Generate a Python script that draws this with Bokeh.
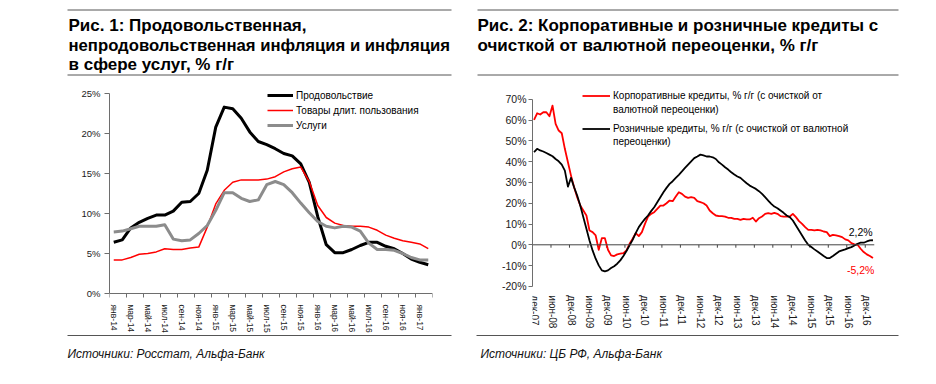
from bokeh.plotting import figure
from bokeh.models import Range1d, FixedTicker, PrintfTickFormatter, Legend, LegendItem, Span, Label
from bokeh.layouts import column, row
from bokeh.embed import file_html
from bokeh.resources import INLINE
from bokeh.core.properties import value

FONT = "Liberation Sans"

# ---------------- data: chart 1 (monthly, янв-14 .. фев-17) ----------------
mon_names = ["янв", "фев", "мар", "апр", "май", "июн", "июл", "авг", "сен", "окт", "ноя", "дек"]
categories1 = [f"{mon_names[k % 12]}-{14 + k // 12}" for k in range(38)]
food = [6.4, 6.7, 8.2, 8.9, 9.4, 9.8, 9.8, 10.3, 11.4, 11.5, 12.5, 15.4, 20.8, 23.3, 23.1, 21.9,
        20.2, 19.0, 18.6, 18.1, 17.5, 17.2, 16.2, 13.9, 9.6, 6.1, 5.1, 5.1, 5.5, 6.0, 6.4, 6.4,
        5.9, 5.6, 5.0, 4.3, 3.9, 3.6]
durable = [4.2, 4.2, 4.5, 4.9, 5.0, 5.2, 5.6, 5.5, 5.5, 5.7, 5.8, 8.3, 11.2, 12.9, 13.9, 14.2,
           14.2, 14.2, 14.3, 14.6, 15.2, 15.6, 15.8, 14.0, 11.0, 9.5, 8.8, 8.5, 8.4, 8.4, 8.3, 7.9,
           7.3, 6.9, 6.6, 6.4, 6.2, 5.6]
services = [7.7, 7.8, 8.1, 8.4, 8.4, 8.4, 8.6, 6.8, 6.6, 6.7, 7.5, 8.5, 10.4, 12.6, 12.6, 11.9,
            11.5, 11.7, 13.6, 14.0, 13.6, 12.6, 11.3, 10.1, 9.0, 8.4, 8.2, 8.4, 8.3, 7.8, 6.3, 5.5,
            5.5, 5.4, 5.0, 4.5, 4.2, 4.2]
yticks1 = [0, 5, 10, 15, 20, 25]

# ---------------- data: chart 2 (monthly, дек-07 .. фев-17) ----------------
corp = [60.1, 63.3, 62.7, 63.8, 63.8, 61.9, 67.0, 58.2, 55.0, 53.7,
        46.2, 39.7, 33.3, 27.7, 22.9, 18.9, 16.5, 14.1, 6.9, 6.1,
        4.5, -2.4, 3.2, 3.2, -2.4, -5.1, -5.4, -4.6, -4.3, -4.0,
        -2.7, 0.5, 2.9, 5.6, 4.2, 6.1, 10.1, 13.6, 14.9, 15.7,
        17.3, 18.9, 18.9, 20.0, 21.3, 21.0, 23.2, 25.3, 24.5, 23.2,
        22.6, 22.9, 22.6, 21.0, 20.5, 20.0, 18.9, 16.5, 15.2, 14.1,
        13.8, 13.8, 13.6, 13.0, 13.0, 12.5, 12.5, 12.0, 12.5, 12.2,
        12.2, 13.0, 11.2, 12.8, 13.6, 14.9, 15.2, 14.9, 15.4, 14.9,
        13.8, 13.6, 13.6, 13.6, 14.9, 13.3, 11.4, 10.1, 8.5, 7.2,
        7.2, 6.9, 7.2, 6.9, 6.4, 6.1, 4.2, 4.8, 4.5, 4.2,
        3.7, 2.6, 2.1, 0.8, 0.2, 0.0, -1.9, -3.5, -4.6, -5.4, -6.4]
retail = [44.6, 46.2, 45.4, 44.9, 44.2, 43.4, 42.6, 41.3, 40.2, 38.6,
          35.7, 28.0, 32.2, 27.7, 23.7, 18.9, 13.3, 7.7, 2.1, -2.7,
          -6.7, -9.9, -12.3, -12.8, -12.3, -11.2, -10.3, -9.1, -7.5, -5.4,
          -3.0, -0.3, 2.4, 5.6, 8.5, 10.6, 12.5, 14.1, 16.2, 18.1,
          20.5, 22.9, 25.3, 27.4, 29.3, 30.6, 32.2, 33.7, 35.3, 37.0,
          38.6, 40.2, 41.7, 42.5, 43.4, 43.0, 42.5, 42.5, 42.1, 41.3,
          39.7, 38.6, 37.3, 36.2, 34.9, 33.8, 32.9, 32.2, 30.9, 29.6,
          28.5, 27.7, 26.9, 25.8, 24.5, 22.9, 21.3, 19.7, 18.4, 17.6,
          16.5, 15.4, 14.1, 13.3, 11.7, 9.3, 6.9, 4.5, 2.1, 0.0,
          -1.1, -2.2, -3.2, -4.3, -5.4, -6.4, -6.4, -5.4, -4.3, -3.2,
          -2.7, -2.2, -1.6, -1.1, -0.3, 0.5, 1.0, 1.0, 1.6, 2.1, 2.2]
xtick_labels2 = ["дек-07", "июн-08", "дек-08", "июн-09", "дек-09", "июн-10", "дек-10", "июн-11",
                 "дек-11", "июн-12", "дек-12", "июн-13", "дек-13", "июн-14", "дек-14", "июн-15",
                 "дек-15", "июн-16", "дек-16"]
yticks2 = [-20, -10, 0, 10, 20, 30, 40, 50, 60, 70]
end_labels2 = ["2,2%", "-5,2%"]

AX = "#6e6e6e"
TXT = "#1a1a1a"
RULE = "#555555"
WL, WR = 468, 460
TITLE_SIZE = "17px"


def deco_fig(w, h):
    p = figure(width=w, height=h, x_range=Range1d(0, w), y_range=Range1d(h, 0),
               output_backend="svg", toolbar_location=None, title=None,
               x_axis_location=None, y_axis_location=None, min_border=0)
    p.grid.visible = False
    p.outline_line_color = None
    return p


def add_text(p, x, y, t, size, style="normal", color="#000000"):
    p.text(x=[x], y=[y], text=[t], text_font=value(FONT), text_font_size=size,
           text_font_style=style, text_baseline="middle", text_align="left", text_color=color)


# ---------------- headers ----------------
h1 = deco_fig(WL, 83)
h1.segment(x0=[67, 67], y0=[9.5, 74.5], x1=[451, 451], y1=[9.5, 74.5], line_color=RULE, line_width=1)
add_text(h1, 68, 25, "Рис. 1: Продовольственная,", TITLE_SIZE, "bold")
add_text(h1, 68, 45, "непродовольственная инфляция и инфляция", "16.7px", "bold")
add_text(h1, 68, 64, "в сфере услуг, % г/г", TITLE_SIZE, "bold")

h2 = deco_fig(WR, 83)
h2.segment(x0=[9, 9], y0=[9.5, 74.5], x1=[430, 430], y1=[9.5, 74.5], line_color=RULE, line_width=1)
add_text(h2, 9, 25, "Рис. 2: Корпоративные и розничные кредиты с", TITLE_SIZE, "bold")
add_text(h2, 9, 45, "очисткой от валютной переоценки, %  г/г", TITLE_SIZE, "bold")

# ---------------- chart 1 ----------------
# frame spans page y 85..333; 8 px per percentage point, 0% at page y 293
x1 = list(range(len(categories1)))
c1 = figure(frame_width=323, frame_height=248,
            x_range=Range1d(-0.5, len(categories1) - 0.5), y_range=Range1d(-5, 26),
            output_backend="svg", toolbar_location=None, title=None,
            min_border_left=109, min_border_right=36, min_border_top=2, min_border_bottom=0)
c1.grid.visible = False
c1.outline_line_color = None
r_food = c1.line(x1, food, line_color="#000000", line_width=3, line_join="round")
r_dur = c1.line(x1, durable, line_color="#ff0000", line_width=1.5, line_join="round")
r_serv = c1.line(x1, services, line_color="#8c8c8c", line_width=3, line_join="round")
lab_ticks1 = list(range(0, len(categories1), 2))
c1.xaxis.fixed_location = 0
c1.xaxis.ticker = FixedTicker(ticks=lab_ticks1, minor_ticks=[t - 0.5 for t in range(0, len(categories1) + 2, 2)])
c1.xaxis.major_label_overrides = {t: categories1[t] for t in lab_ticks1}
c1.xaxis.major_label_orientation = "vertical"
c1.xaxis.major_tick_out = 0
c1.xaxis.major_tick_in = 0
c1.xaxis.minor_tick_out = 4
c1.xaxis.minor_tick_in = 0
c1.xaxis.major_label_standoff = 7
c1.yaxis.bounds = (0, 25)
c1.yaxis.ticker = FixedTicker(ticks=yticks1)
c1.yaxis.formatter = PrintfTickFormatter(format="%d%%")
c1.yaxis.major_tick_out = 5
c1.yaxis.major_tick_in = 0
c1.yaxis.minor_tick_out = 0
c1.yaxis.minor_tick_in = 0
c1.yaxis.major_label_standoff = 4
for ax in (c1.xaxis, c1.yaxis):
    ax.axis_line_color = AX
    ax.major_tick_line_color = AX
    ax.minor_tick_line_color = AX
    ax.major_label_text_font = FONT
    ax.major_label_text_color = TXT
c1.xaxis.major_label_text_font_size = "8.5px"
c1.yaxis.major_label_text_font_size = "9.5px"

leg1 = Legend(items=[LegendItem(label="Продовольствие", renderers=[r_food]),
                     LegendItem(label="Товары длит. пользования", renderers=[r_dur]),
                     LegendItem(label="Услуги", renderers=[r_serv])],
              location=(158, 202), glyph_width=26, glyph_height=12, label_height=12, spacing=3,
              padding=0, margin=0, border_line_color=None, background_fill_alpha=0,
              label_text_font=FONT, label_text_font_size="10px", label_standoff=3,
              label_text_color="#000000")
c1.add_layout(leg1)

# ---------------- chart 2 ----------------
# frame spans page y 85..333; 2.078 px per percentage point, 0% at page y 244.3
x2 = list(range(len(corp)))
c2 = figure(frame_width=342, frame_height=248,
            x_range=Range1d(-0.5, len(corp) - 0.5), y_range=Range1d(-42.69, 76.67),
            output_backend="svg", toolbar_location=None, title=None,
            min_border_left=64, min_border_right=54, min_border_top=2, min_border_bottom=0)
c2.grid.visible = False
c2.outline_line_color = None
c2.add_layout(Span(location=0, dimension="width", line_color="#444444", line_width=1))
lab_ticks2 = [6 * k for k in range(len(xtick_labels2))]
bounds2 = [t - 0.5 for t in lab_ticks2] + [lab_ticks2[-1] + 5.5]
c2.segment(x0=bounds2, y0=[0] * len(bounds2), x1=bounds2, y1=[-1.4] * len(bounds2),
           line_color="#444444", line_width=1)
r_corp = c2.line(x2, corp, line_color="#ff0000", line_width=1.8, line_join="round")
r_ret = c2.line(x2, retail, line_color="#000000", line_width=1.8, line_join="round")
dummy = c2.line(x=[], y=[], line_alpha=0)

c2.xaxis.fixed_location = yticks2[0]
c2.xaxis.ticker = FixedTicker(ticks=lab_ticks2)
c2.xaxis.major_label_overrides = {t: lab for t, lab in zip(lab_ticks2, xtick_labels2)}
c2.xaxis.major_label_orientation = "vertical"
c2.xaxis.axis_line_color = None
c2.xaxis.major_tick_out = 0
c2.xaxis.major_tick_in = 0
c2.xaxis.minor_tick_out = 0
c2.xaxis.minor_tick_in = 0
c2.xaxis.major_label_standoff = 9
c2.yaxis.bounds = (yticks2[0], yticks2[-1])
c2.yaxis.ticker = FixedTicker(ticks=yticks2)
c2.yaxis.formatter = PrintfTickFormatter(format="%d%%")
c2.yaxis.major_tick_out = 4
c2.yaxis.major_tick_in = 0
c2.yaxis.minor_tick_out = 0
c2.yaxis.minor_tick_in = 0
c2.yaxis.major_label_standoff = 2
c2.yaxis.axis_line_color = AX
c2.yaxis.major_tick_line_color = AX
for ax in (c2.xaxis, c2.yaxis):
    ax.major_label_text_font = FONT
    ax.major_label_text_color = TXT
c2.xaxis.major_label_text_font_size = "10px"
c2.yaxis.major_label_text_font_size = "10.5px"

leg_common = dict(glyph_width=28, glyph_height=11, label_height=11, padding=0, margin=0,
                  border_line_color=None, background_fill_alpha=0, label_text_font=FONT,
                  label_text_font_size="10px", label_standoff=3, label_text_color="#000000")
leg2a = Legend(items=[LegendItem(label="Корпоративные кредиты, % г/г (с очисткой от", renderers=[r_corp]),
                      LegendItem(label="валютной переоценки)", renderers=[dummy])],
               location=(50, 218.5), spacing=3, **leg_common)
leg2b = Legend(items=[LegendItem(label="Розничные кредиты, % г/г (с очисткой от валютной", renderers=[r_ret]),
                      LegendItem(label="переоценки)", renderers=[dummy])],
               location=(50, 186.5), spacing=2, **leg_common)
c2.add_layout(leg2a)
c2.add_layout(leg2b)

c2.add_layout(Label(x=len(retail) - 5, y=retail[-1] + 4.2, text=end_labels2[0], text_font=FONT,
                    text_font_size="10.5px", text_color="#000000", text_align="center",
                    text_baseline="middle"))
c2.add_layout(Label(x=len(corp) - 5, y=corp[-1] - 5.5, text=end_labels2[1], text_font=FONT,
                    text_font_size="10.5px", text_color="#ff0000", text_align="center",
                    text_baseline="middle"))

# ---------------- footers ----------------
f1 = deco_fig(WL, 43)
f1.segment(x0=[67], y0=[2], x1=[451], y1=[2], line_color=RULE, line_width=1)
add_text(f1, 67, 20, "Источники: Росстат, Альфа-Банк", "12px", "italic", "#111111")
f2 = deco_fig(WR, 43)
f2.segment(x0=[8], y0=[2], x1=[430], y1=[2], line_color=RULE, line_width=1)
add_text(f2, 12, 20, "Источники: ЦБ РФ, Альфа-Банк", "12px", "italic", "#111111")

layout = column(row(h1, h2), row(c1, c2), row(f1, f2))
open("out.html", "w").write(file_html(layout, INLINE))
